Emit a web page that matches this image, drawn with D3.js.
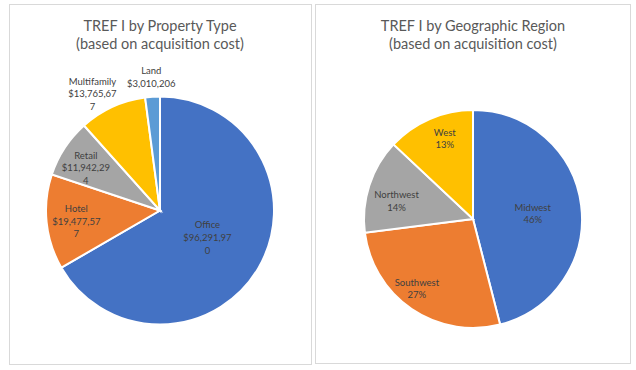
<!DOCTYPE html>
<html>
<head>
<meta charset="utf-8">
<script src="https://cdn.jsdelivr.net/npm/d3@7"></script>
<style>
  body { margin: 0; background: #fff; }
  svg { display: block; font-family: Lato, "Open Sans", sans-serif; }
</style>
</head>
<body>
<div id="chart"></div>
<script>
// ---------------------------- data ----------------------------
const propertyTypes = ["Office", "Hotel", "Retail", "Multifamily", "Land"];
const propertyCosts = [96291970, 19477577, 11942294, 13765677, 3010206];
const propertyColors = ["#4472C4", "#ED7D31", "#A5A5A5", "#FFC000", "#5B9BD5"];

const regions = ["Midwest", "Southwest", "Northwest", "West"];
const regionShares = [46, 27, 14, 13];
const regionColors = ["#4472C4", "#ED7D31", "#A5A5A5", "#FFC000"];

// label placement (fraction of radius, angle shift in degrees)
const propertyLabelPos = [[0.48, 0], [0.74, -1.5], [0.75, -3.5], [1.18, -5.5], [1.17, 0]];
const regionLabelPos = [[0.55, 2], [0.82, 4.7], [0.72, -5], [0.78, 4]];

const WIDTH = 636, HEIGHT = 370;

const svg = d3.select("#chart")
    .append("svg")
    .attr("width", WIDTH)
    .attr("height", HEIGHT);

const money = d3.format("$,");
const chunk = (s, n) => s.match(new RegExp(`.{1,${n}}`, "g"));

function drawPanel(opts) {
    const {x0, y0, w, h, cx, cy, r, title, names, values, colors, labelPos, valueText} = opts;

    svg.append("rect")
        .attr("x", x0 + 0.5)
        .attr("y", y0 + 0.5)
        .attr("width", w)
        .attr("height", h)
        .attr("fill", "#fff")
        .attr("stroke", "#d9d9d9");

    const t = svg.append("text")
        .attr("text-anchor", "middle")
        .attr("fill", "#595959")
        .style("font-size", "14.5px");
    title.forEach((line, i) => {
        t.append("tspan")
            .attr("x", cx)
            .attr("y", 31 + i * 17.5)
            .text(line);
    });

    const data = names.map((n, i) => ({name: n, value: values[i], color: colors[i], pos: labelPos[i]}));
    const pie = d3.pie().sort(null).value(d => d.value);
    const arc = d3.arc().innerRadius(0).outerRadius(r);

    const g = svg.append("g").attr("transform", `translate(${cx},${cy})`);

    const arcs = pie(data);
    g.selectAll("path")
        .data(arcs)
        .enter()
        .append("path")
        .attr("d", arc)
        .attr("fill", d => d.data.color)
        .attr("stroke", "#fff")
        .attr("stroke-width", 2);

    g.selectAll("text.lbl")
        .data(arcs)
        .enter()
        .append("text")
        .attr("class", "lbl")
        .attr("text-anchor", "middle")
        .attr("fill", "#404040")
        .style("font-size", "9.5px")
        .each(function (d) {
            const [frac, shift] = d.data.pos;
            const a = (d.startAngle + d.endAngle) / 2 + shift * Math.PI / 180;
            const lx = Math.sin(a) * r * frac;
            const ly = -Math.cos(a) * r * frac;
            const lines = [d.data.name].concat(chunk(valueText(d.data.value), 10));
            const lh = 12.7;
            const top = ly - (lines.length - 1) * lh / 2 + 3.3;
            const el = d3.select(this);
            lines.forEach((ln, i) => {
                el.append("tspan")
                    .attr("x", lx)
                    .attr("y", top + i * lh)
                    .text(ln);
            });
        });
}

drawPanel({
    x0: 9, y0: 4, w: 302, h: 360,
    cx: 160, cy: 210.5, r: 114,
    title: ["TREF I by Property Type", "(based on acquisition cost)"],
    names: propertyTypes, values: propertyCosts, colors: propertyColors,
    labelPos: propertyLabelPos,
    valueText: v => money(v)
});

drawPanel({
    x0: 315, y0: 4, w: 315, h: 359,
    cx: 473, cy: 219, r: 109,
    title: ["TREF I by Geographic Region", "(based on acquisition cost)"],
    names: regions, values: regionShares, colors: regionColors,
    labelPos: regionLabelPos,
    valueText: v => v + "%"
});
</script>
</body>
</html>
